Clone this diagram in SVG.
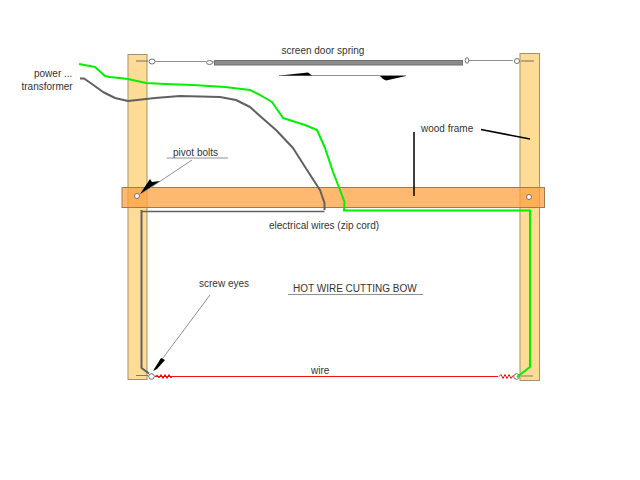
<svg xmlns="http://www.w3.org/2000/svg" width="640" height="480" viewBox="0 0 640 480">
<style>
text{font-family:"Liberation Sans",Arial,sans-serif;font-size:10px;fill:#333}
.post{fill:#ffdc96;stroke:#a0926e;stroke-width:1}
.bar{fill:#ffa040;fill-opacity:.75;stroke:#a07a50;stroke-width:1}
.thin{fill:none;stroke:#909090;stroke-width:1}
.ring{fill:#fff;stroke:#707070;stroke-width:1}
.green{fill:none;stroke:#00f000;stroke-width:2;stroke-linejoin:round}
.grey{fill:none;stroke:#606060;stroke-width:2;stroke-linejoin:round}
.ptr{fill:none;stroke:#000;stroke-width:1.500}
.red{fill:none;stroke:#f01010;stroke-width:1}
</style>
<rect width="640" height="480" fill="#fff"/>
<g id="left-post"><rect class="post" x="128" y="54.500" width="19" height="325"/></g>
<g id="right-post"><rect class="post" x="520" y="53.500" width="19.500" height="327"/></g>
<g id="crossbar"><rect class="bar" x="122" y="187.500" width="422.500" height="20"/></g>
<g id="spring">
<rect x="214.500" y="60.500" width="248" height="4.500" fill="#8c8c8c" stroke="#707070" stroke-width="1"/>
<path class="thin" d="M155 61.500H206M212 62H214M467 60.500H513"/>
<path d="M136 61H148M521 61H534" fill="none" stroke="#707060" stroke-width="1"/>
<ellipse class="ring" cx="152" cy="61.500" rx="3" ry="2.500"/>
<ellipse class="ring" cx="209.500" cy="62.500" rx="3" ry="2"/>
<ellipse class="ring" cx="467" cy="60.500" rx="1.800" ry="2.800"/>
<ellipse class="ring" cx="517" cy="61" rx="2.500" ry="2.500"/>
</g>
<g id="pivots">
<circle class="ring" cx="137" cy="196" r="2.500"/>
<circle class="ring" cx="529" cy="197" r="2.500"/>
</g>
<g id="hot-wire">
<path class="red" d="M155 376.500H498"/>
<path class="red" d="M155 376.500l2-1.500 2 3 2-3.500 2 4 2-4 2 4 2-4 2 3.500 1.500-2M499 376.500l2-2 2 4 2-4 2 4 2-4 2 4 2-3 2 1"/>
<circle class="ring" cx="151.500" cy="376.500" r="2.800"/>
<circle class="ring" cx="516.500" cy="376.500" r="2.800"/>
<path d="M136 375.500H148M521 376H533" fill="none" stroke="#8a7a50" stroke-width="1"/>
</g>
<g id="connectors">
<path class="green" d="M79 64L95 67L105 76L110 77L128 79L146 83L165 84L193 85L225 87L250 90L260 95L272 102L283 118L305 125L317 130L325 148L333 172L340 190L344.500 202L344 210.500H530V367L517 377"/>
<path class="grey" d="M80 78.500H84L92 84L103 92L115 98L128 101L155 98L180 96L220 97L236 100L250 107L260 116L276 130L293 148L307 170L320 190L324.500 203V210"/>
<path d="M324.500 211.500H142" fill="none" stroke="#606060" stroke-width="1.500"/>
<path class="grey" d="M141.500 210V368L149 373.500"/>
<path class="ptr" d="M414 132V196M481 129.500L530 139"/>
<path class="thin" d="M192 160L141 194M210 295L154 370"/>
<path d="M150 179L140 194L160 181L152 182Z" fill="#000"/>
<path d="M161 358L153 371L157 369L165 360Z" fill="#000"/>
<path class="thin" d="M279 75.500H406"/>
<path d="M280 75.500L308 72.500L312 75.500Z" fill="#000"/>
<path d="M380 76L406 76L386 80.500L383 79Z" fill="#000"/>
<path class="thin" d="M166.500 158H228M288 294.500H423"/>
</g>
<g id="labels">
<text x="281.500" y="54">screen door spring</text>
<text x="34" y="76.500">power ...</text>
<text x="21.500" y="90">transformer</text>
<text x="421" y="132">wood frame</text>
<text x="173" y="156">pivot bolts</text>
<text x="269" y="228.500">electrical wires (zip cord)</text>
<text x="199" y="287">screw eyes</text>
<text x="293" y="291.500">HOT WIRE CUTTING BOW</text>
<text x="311" y="373.500">wire</text>
</g>
</svg>
